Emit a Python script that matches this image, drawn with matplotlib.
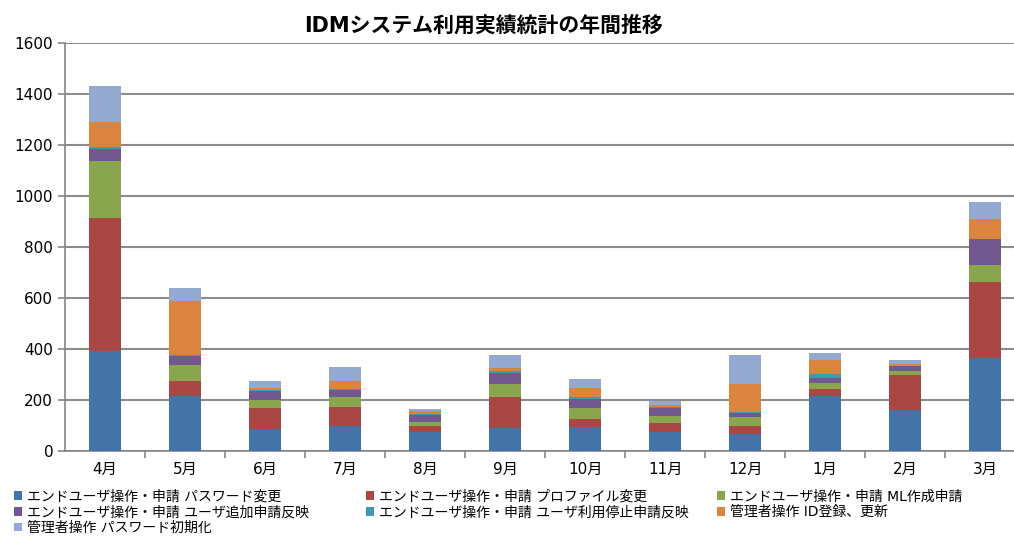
import matplotlib.pyplot as plt
import numpy as np

plt.rcParams['font.family'] = ['DejaVu Sans', 'Noto Sans CJK JP']

months = ['4月', '5月', '6月', '7月', '8月', '9月', '10月', '11月', '12月', '1月', '2月', '3月']
series_names = [
    'エンドユーザ操作・申請 パスワード変更',
    'エンドユーザ操作・申請 プロファイル変更',
    'エンドユーザ操作・申請 ML作成申請',
    'エンドユーザ操作・申請 ユーザ追加申請反映',
    'エンドユーザ操作・申請 ユーザ利用停止申請反映',
    '管理者操作 ID登録、更新',
    '管理者操作 パスワード初期化',
]
pw_change = [391, 216, 85, 98, 76, 92, 96, 74, 65, 217, 160, 365]
profile_change = [524, 59, 82, 73, 24, 119, 29, 35, 35, 28, 137, 296]
ml_request = [221, 62, 34, 40, 14, 53, 45, 30, 32, 21, 16, 69]
user_add = [48, 35, 36, 29, 28, 43, 34, 29, 16, 22, 20, 100]
user_stop = [8, 6, 4, 5, 3, 6, 7, 3, 5, 13, 2, 2]
admin_id = [98, 211, 8, 28, 12, 13, 36, 8, 110, 57, 6, 77]
admin_pw = [143, 50, 24, 56, 6, 49, 35, 18, 113, 28, 17, 67]

series = [pw_change, profile_change, ml_request, user_add, user_stop, admin_id, admin_pw]
colors = ['#4572A7', '#AA4643', '#89A54E', '#71588F', '#4198AF', '#DB843D', '#93A9CF']

fig = plt.figure(figsize=(10.14, 5.38), dpi=100)
ax = fig.add_axes([65 / 1014, 1 - 451 / 538, (1014 - 65) / 1014, 408 / 538])

x = np.arange(len(months))
bottom = np.zeros(len(months))
handles = []
for vals, name, c in zip(series, series_names, colors):
    h = ax.bar(x, vals, width=0.4, bottom=bottom, color=c, label=name, zorder=3)
    handles.append(h)
    bottom += np.array(vals)

ax.set_ylim(0, 1600)
ax.set_yticks(range(0, 1601, 200))
ax.set_xlim(-0.5, 11.36)
ax.set_xticks(x)
ax.set_xticklabels(months)
ax.set_xticks(np.arange(0.5, 11.5, 1), minor=True)
ax.tick_params(axis='x', which='major', length=0, labelsize=11, pad=8)
ax.tick_params(axis='x', which='minor', length=5, color='#868686', width=1.2)
ax.tick_params(axis='y', length=5, color='#868686', width=1.2, labelsize=11)
ax.grid(axis='y', color='#8c8c8c', linewidth=1.5, zorder=0)
for s in ['top', 'right']:
    ax.spines[s].set_visible(False)
ax.spines['left'].set_color('#868686')
ax.spines['bottom'].set_color('#868686')
ax.spines['left'].set_linewidth(1.2)
ax.spines['bottom'].set_linewidth(1.2)

fig.text(483 / 1014, 1 - 25 / 538, 'IDMシステム利用実績統計の年間推移',
         ha='center', va='center', fontsize=15, fontweight='bold')

# legend laid out row by row, one legend per column
col_x = [8, 360, 711]
for i, cx in enumerate(col_x):
    hs = handles[i::3]
    leg = fig.legend(handles=hs, loc='upper left', bbox_to_anchor=(cx / 1014, 1 - 484 / 538),
                     frameon=False, fontsize=10, handlelength=0.6, handleheight=0.6,
                     handletextpad=0.4, labelspacing=0.12, borderaxespad=0)

fig.savefig('out.png', dpi=100)
